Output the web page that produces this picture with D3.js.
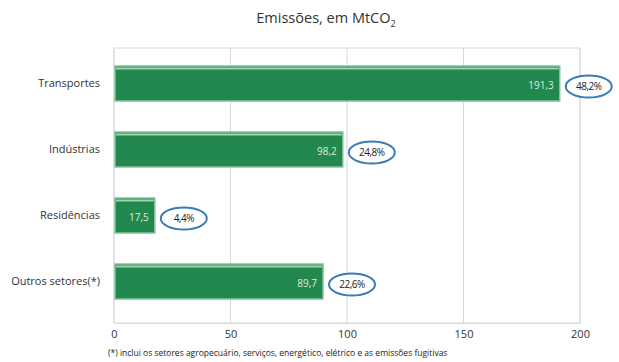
<!DOCTYPE html>
<html>
<head>
<meta charset="utf-8">
<script src="https://cdn.jsdelivr.net/npm/d3@7"></script>
<style>
  body { margin: 0; background: #fff; }
  text { font-family: "Open Sans", sans-serif; }
</style>
</head>
<body>
<div id="chart"></div>
<script>
// data
var setores = ["Transportes", "Indústrias", "Residências", "Outros setores(*)"];
var emissoes = [191.3, 98.2, 17.5, 89.7];
var valorLabels = ["191,3", "98,2", "17,5", "89,7"];
var percentuais = ["48,2%", "24,8%", "4,4%", "22,6%"];
var xTicks = [0, 50, 100, 150, 200];

var width = 619,
    height = 362,
    margin = {top: 48, right: 39, bottom: 39, left: 114};

var svg = d3.select("#chart").append("svg")
    .attr("width", width)
    .attr("height", height);

var x = d3.scaleLinear()
    .domain([0, 200])
    .range([margin.left, width - margin.right]);

var y = d3.scaleBand()
    .domain(setores)
    .range([50.5, 314.5])
    .paddingInner(0.47)
    .paddingOuter(0.235);

// title
var title = svg.append("text")
    .attr("x", 326).attr("y", 23)
    .attr("text-anchor", "middle")
    .attr("font-size", 14.5)
    .attr("fill", "#333");
title.append("tspan").text("Emissões, em MtCO");
title.append("tspan").attr("font-size", 9).attr("dy", 4).text("2");

// plot frame + grid
svg.append("rect")
    .attr("x", margin.left).attr("y", margin.top)
    .attr("width", x(200) - x(0))
    .attr("height", height - margin.bottom - margin.top)
    .attr("fill", "none")
    .attr("stroke", "#d9d9d9");

svg.selectAll(".grid")
    .data(xTicks)
    .enter().append("line").attr("class", "grid")
    .attr("x1", function(d) { return x(d); })
    .attr("x2", function(d) { return x(d); })
    .attr("y1", margin.top)
    .attr("y2", height - margin.bottom)
    .attr("stroke", "#d9d9d9");

// x axis
var xAxis = svg.append("g")
    .attr("transform", "translate(0," + (height - margin.bottom) + ")")
    .call(d3.axisBottom(x).tickValues(xTicks).tickSize(0).tickPadding(7));
xAxis.select(".domain").attr("stroke", "#d9d9d9");
xAxis.selectAll("text")
    .attr("font-family", "Open Sans, sans-serif")
    .attr("font-size", 11)
    .attr("fill", "#333");

// y labels
svg.selectAll(".cat")
    .data(setores)
    .enter().append("text").attr("class", "cat")
    .attr("x", 100)
    .attr("y", function(d) { return y(d) + y.bandwidth() / 2; })
    .attr("dy", "0.35em")
    .attr("text-anchor", "end")
    .attr("font-size", 11)
    .attr("fill", "#333")
    .text(function(d) { return d; });

// bars
var bars = svg.selectAll(".bar")
    .data(emissoes)
    .enter().append("g").attr("class", "bar");

bars.append("rect")
    .attr("x", x(0) + 1)
    .attr("y", function(d, i) { return y(setores[i]); })
    .attr("width", function(d) { return x(d) - x(0) - 1; })
    .attr("height", y.bandwidth())
    .attr("fill", "#23884f")
    .attr("stroke", "#7cc596")
    .attr("stroke-width", 1.5);

bars.append("line")
    .attr("x1", x(0) + 2)
    .attr("x2", function(d) { return x(d) - 1; })
    .attr("y1", function(d, i) { return y(setores[i]) + 2.5; })
    .attr("y2", function(d, i) { return y(setores[i]) + 2.5; })
    .attr("stroke", "#9fd6b0")
    .attr("stroke-width", 2);

bars.append("text")
    .attr("x", function(d) { return x(d) - 6; })
    .attr("y", function(d, i) { return y(setores[i]) + y.bandwidth() / 2 + 2; })
    .attr("dy", "0.35em")
    .attr("text-anchor", "end")
    .attr("font-size", 10)
    .attr("fill", "#d8eedd")
    .text(function(d, i) { return valorLabels[i]; });

// percentages in blue ellipses
var pct = bars.append("g")
    .attr("transform", function(d, i) {
        return "translate(" + (x(d) + 29) + "," + (y(setores[i]) + y.bandwidth() / 2 + 3) + ")";
    });

pct.append("ellipse")
    .attr("rx", 23).attr("ry", 11)
    .attr("fill", "#fff")
    .attr("stroke", "#3b7bb8")
    .attr("stroke-width", 2);

pct.append("text")
    .attr("dy", "0.35em")
    .attr("text-anchor", "middle")
    .attr("font-size", 10)
    .attr("letter-spacing", -0.5)
    .attr("fill", "#222")
    .text(function(d, i) { return percentuais[i]; });

// footnote
svg.append("text")
    .attr("x", 108).attr("y", 356)
    .attr("font-size", 8.5)
    .attr("fill", "#222")
    .text("(*) inclui os setores agropecuário, serviços, energético, elétrico e as emissões fugitivas");
</script>
</body>
</html>
